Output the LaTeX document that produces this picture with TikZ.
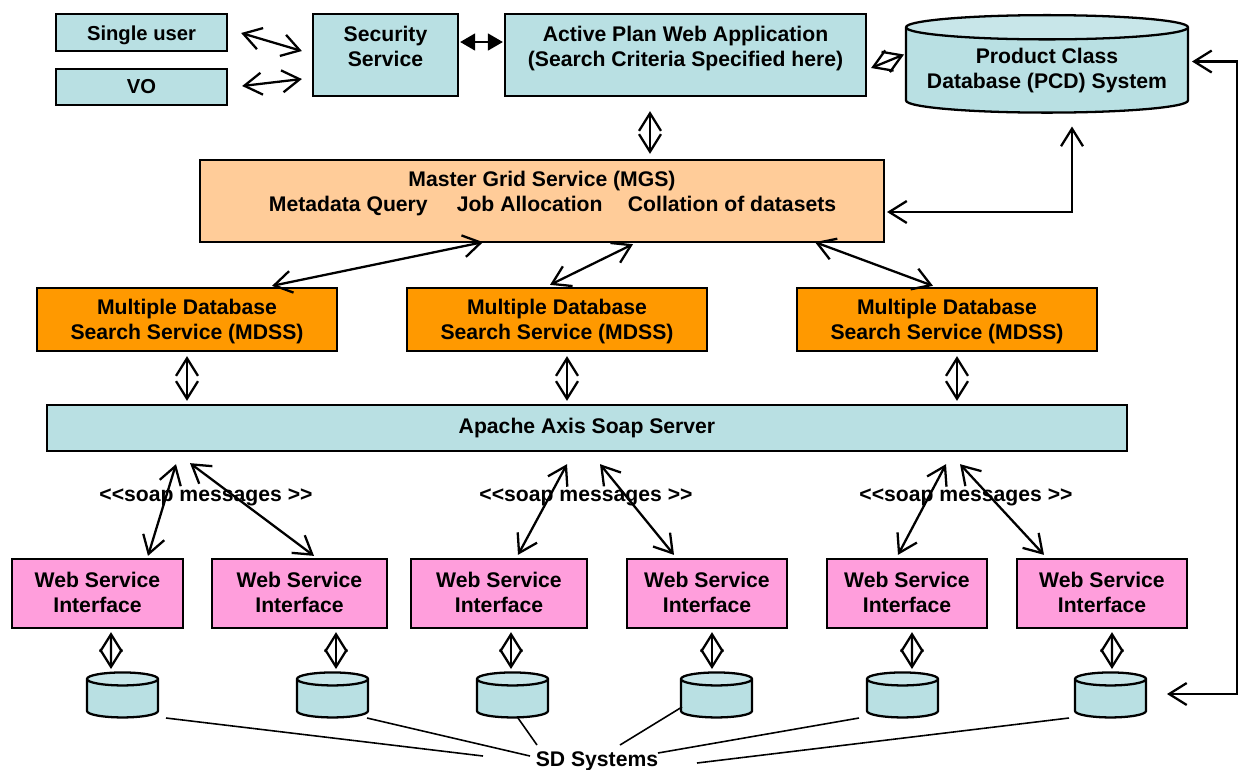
\documentclass[tikz,border=0pt]{standalone}
\usepackage{fontspec}
\setmainfont{Liberation Sans}
\usetikzlibrary{arrows.meta,shapes.geometric}
\definecolor{paleblue}{RGB}{185,224,227}
\definecolor{palebluetop}{RGB}{200,230,233}
\definecolor{lightorange}{RGB}{255,204,153}
\definecolor{deeporange}{RGB}{255,153,0}
\definecolor{softpink}{RGB}{255,158,220}
\tikzstyle{boxtext} = [font=\bfseries\fontsize{12.05}{14.2}\selectfont,align=center,inner sep=0pt]
\tikzstyle{box} = [boxtext,draw=black,line width=1.3pt,rectangle]
\tikzstyle{bluebox} = [box,fill=paleblue]
\tikzstyle{userbox} = [bluebox,font=\bfseries\fontsize{11.5}{14.2}\selectfont,minimum width=3.42cm]
\tikzstyle{mdssbox} = [box,fill=deeporange,minimum width=6cm,minimum height=1.26cm]
\tikzstyle{wsibox} = [box,fill=softpink,minimum height=1.38cm]
\tikzstyle{drum} = [boxtext,draw=black,line width=1.3pt,cylinder,shape border rotate=90,cylinder uses custom fill,cylinder body fill=paleblue,cylinder end fill=palebluetop]
\tikzstyle{smalldrum} = [drum,inner xsep=0.71cm,minimum width=1.42cm,minimum height=0.9cm,aspect=0.183]
\tikzstyle{link} = [line width=1.3pt,{Straight Barb[length=10pt,width=12.5pt]}-{Straight Barb[length=10pt,width=12.5pt]}]
\tikzstyle{solidlink} = [line width=1.3pt,{Triangle[length=8.5pt,width=9.5pt]}-{Triangle[length=8.5pt,width=9.5pt]}]
\tikzstyle{pointer} = [line width=0.9pt]
\begin{document}
\begin{tikzpicture}[x=0.02cm,y=-0.02cm]
\useasboundingbox (0,0) rectangle (1238,769);

% Top row
\node[userbox, minimum height=0.74cm] (single) at (141.5,32.5) {Single user\\[-15pt]};
\node[userbox, minimum height=0.72cm] (vo) at (141.5,87) {VO};
\node[bluebox, minimum width=2.9cm, minimum height=1.64cm] (security) at (385.5,55) {Security\\Service\\[-4.5pt]};
\node[bluebox, minimum width=7.22cm, minimum height=1.64cm] (active) at (685.5,55) {Active Plan Web Application\\(Search Criteria Specified here)\\[-4.5pt]};
\node[drum, minimum width=5.64cm, minimum height=1.95cm, aspect=0.101] (pcd) at (1047,70.5) {Product Class\\Database (PCD) System};

% Master service
\node[box, fill=lightorange, minimum width=13.68cm, minimum height=1.64cm] (mgs) at (542,201) {Master Grid Service (MGS)\\\hspace{12pt}Metadata Query\hspace{16.5pt}Job Allocation\hspace{14.4pt}Collation of datasets\\[-2.8pt]};

% Search services
\node[mdssbox] (mdss1) at (187,319.5) {Multiple Database\\Search Service (MDSS)\\[-14.4pt]};
\node[mdssbox] (mdss2) at (557,319.5) {Multiple Database\\Search Service (MDSS)\\[-14.4pt]};
\node[mdssbox] (mdss3) at (947,319.5) {Multiple Database\\Search Service (MDSS)\\[-14.4pt]};

% Soap server
\node[bluebox, minimum width=21.6cm, minimum height=0.92cm] (apache) at (587,428) {Apache Axis Soap Server};
\node[boxtext] (soap1) at (206,497.5) {<{}<soap messages >{}>};
\node[boxtext] (soap2) at (586,497.5) {<{}<soap messages >{}>};
\node[boxtext] (soap3) at (966,497.5) {<{}<soap messages >{}>};

% Web service interfaces
\node[wsibox, minimum width=3.42cm] (wsi1) at (97.5,593.5) {Web Service\\Interface\\[-13.3pt]};
\node[wsibox, minimum width=3.5cm] (wsi2) at (299.5,593.5) {Web Service\\Interface\\[-13.3pt]};
\node[wsibox, minimum width=3.52cm] (wsi3) at (499,593.5) {Web Service\\Interface\\[-13.3pt]};
\node[wsibox, minimum width=3.2cm] (wsi4) at (707,593.5) {Web Service\\Interface\\[-13.3pt]};
\node[wsibox, minimum width=3.2cm] (wsi5) at (907,593.5) {Web Service\\Interface\\[-13.3pt]};
\node[wsibox, minimum width=3.4cm] (wsi6) at (1102,593.5) {Web Service\\Interface\\[-13.3pt]};

% SD databases
\node[smalldrum] (db1) at (122.5,702) {};
\node[smalldrum] (db2) at (332.5,702) {};
\node[smalldrum] (db3) at (512.5,702) {};
\node[smalldrum] (db4) at (716.5,702) {};
\node[smalldrum] (db5) at (902.5,702) {};
\node[smalldrum] (db6) at (1110.5,702) {};
\node[boxtext] (sd) at (597,761) {SD Systems};

% Links along the top
\draw[link] ([shift={(13,0.5)}]single.east) -- ([shift={(-10,-4)}]security.west);
\draw[link] ([shift={(14,-1)}]vo.east) -- ([shift={(-10,24)}]security.west);
\draw[solidlink] ([shift={(1,-13)}]security.east) -- ([shift={(-1,-13)}]active.west);
\draw[link] ([shift={(4,13)}]active.east) -- ([shift={(-143,-16)}]pcd.center);
\draw[link] ([shift={(-35.5,14)}]active.south) -- ([shift={(108,-5)}]mgs.north);
\draw[link] ([shift={(2,11)}]mgs.east) -| ([shift={(25,56)}]pcd.center);
\draw[link] ([shift={(145,-9)}]pcd.center) -- ++(45,0) |- ([shift={(56.5,-8)}]db6.center);

% Links from master to search services
\draw[link] ([shift={(-59,-1)}]mgs.south) -- ([shift={(85,-1)}]mdss1.north);
\draw[link] ([shift={(91,1)}]mgs.south) -- ([shift={(-7,-2)}]mdss2.north);
\draw[link] ([shift={(273,-1)}]mgs.south) -- ([shift={(-14,-1)}]mdss3.north);

% Links to soap server
\draw[link] ([shift={(0,4)}]mdss1.south) -- ([shift={(-400,-3)}]apache.north);
\draw[link] ([shift={(10,4)}]mdss2.south) -- ([shift={(-20,-3)}]apache.north);
\draw[link] ([shift={(10,4)}]mdss3.south) -- ([shift={(370,-3)}]apache.north);

\draw[link] ([shift={(-411,12)}]apache.south) -- ([shift={(50.5,-2)}]wsi1.north);
\draw[link] ([shift={(-397,11)}]apache.south) -- ([shift={(14.5,-2)}]wsi2.north);
\draw[link] ([shift={(-20,12)}]apache.south) -- ([shift={(19,-3)}]wsi3.north);
\draw[link] ([shift={(13,12)}]apache.south) -- ([shift={(-33,-3)}]wsi4.north);
\draw[link] ([shift={(359,12)}]apache.south) -- ([shift={(-9,-3)}]wsi5.north);
\draw[link] ([shift={(373,12)}]apache.south) -- ([shift={(-58,-3)}]wsi6.north);

% Interfaces to databases
\draw[link] ([shift={(13.5,3)}]wsi1.south) -- ([shift={(-11.5,-33)}]db1.center);
\draw[link] ([shift={(36.5,3)}]wsi2.south) -- ([shift={(3.5,-33)}]db2.center);
\draw[link] ([shift={(12,3)}]wsi3.south) -- ([shift={(-1.5,-33)}]db3.center);
\draw[link] ([shift={(5,3)}]wsi4.south) -- ([shift={(-4.5,-33)}]db4.center);
\draw[link] ([shift={(5,3)}]wsi5.south) -- ([shift={(9.5,-33)}]db5.center);
\draw[link] ([shift={(10,3)}]wsi6.south) -- ([shift={(1.5,-33)}]db6.center);

% SD Systems label lines
\draw[pointer] ([shift={(43.5,16)}]db1.center) -- ([shift={(-114,-5)}]sd.center);
\draw[pointer] ([shift={(34.5,16)}]db2.center) -- ([shift={(-67,-5)}]sd.center);
\draw[pointer] ([shift={(5.5,16)}]db3.center) -- ([shift={(-60,-16)}]sd.center);
\draw[pointer] ([shift={(-34.5,5)}]db4.center) -- ([shift={(23,-16)}]sd.center);
\draw[pointer] ([shift={(-43.5,16)}]db5.center) -- ([shift={(61,-8)}]sd.center);
\draw[pointer] ([shift={(-41.5,16)}]db6.center) -- ([shift={(100,2)}]sd.center);
\end{tikzpicture}
\end{document}
